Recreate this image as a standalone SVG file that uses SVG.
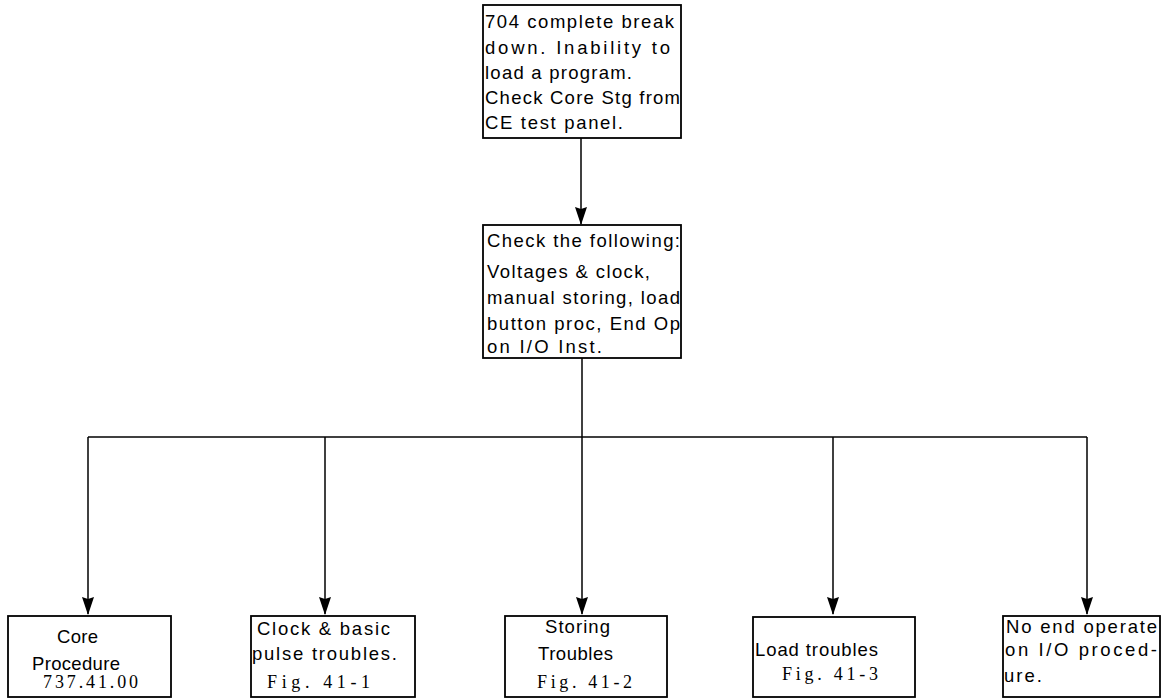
<svg xmlns="http://www.w3.org/2000/svg" width="1163" height="700" viewBox="0 0 1163 700">
<style>
.box{fill:#fff;stroke:#000;stroke-width:1.8}
.t{font-family:"Liberation Sans","DejaVu Sans",sans-serif;font-size:18.5px;fill:#000}
.s{font-family:"Liberation Serif","DejaVu Serif",serif;font-size:18px;fill:#000}
.c{fill:none;stroke:#000;stroke-width:1.5}
</style>
<defs>
<marker id="ah" markerUnits="userSpaceOnUse" markerWidth="18" markerHeight="14" refX="17" refY="7" orient="auto" viewBox="0 0 18 14">
<path d="M0,1 L2,7 L0,13 L18,7 Z" fill="#000"/>
</marker>
</defs>
<rect width="1163" height="700" fill="#fff"/>
<g id="connectors">
<line class="c" x1="581" y1="138" x2="581" y2="224" marker-end="url(#ah)"/>
<line class="c" x1="582" y1="358" x2="582" y2="437"/>
<line class="c" x1="88" y1="437" x2="1087" y2="437"/>
<line class="c" x1="88" y1="437" x2="88" y2="614" marker-end="url(#ah)"/>
<line class="c" x1="325" y1="437" x2="325" y2="614" marker-end="url(#ah)"/>
<line class="c" x1="582" y1="437" x2="582" y2="614" marker-end="url(#ah)"/>
<line class="c" x1="833" y1="437" x2="833" y2="614" marker-end="url(#ah)"/>
<line class="c" x1="1087" y1="437" x2="1087" y2="614" marker-end="url(#ah)"/>
</g>
<g id="start">
<rect class="box" x="483" y="5" width="198" height="133"/>
<text class="t" x="485" y="28" textLength="189" lengthAdjust="spacing">704 complete break</text>
<text class="t" x="485" y="54" textLength="185" lengthAdjust="spacing">down.  Inability to</text>
<text class="t" x="485" y="79" textLength="147" lengthAdjust="spacing">load a program.</text>
<text class="t" x="485" y="104" textLength="195" lengthAdjust="spacing">Check Core Stg from</text>
<text class="t" x="485" y="129" textLength="138" lengthAdjust="spacing">CE test panel.</text>
</g>
<g id="check">
<rect class="box" x="483" y="225" width="198" height="133"/>
<text class="t" x="487" y="247" textLength="193" lengthAdjust="spacing">Check the following:</text>
<text class="t" x="487" y="278" textLength="163" lengthAdjust="spacing">Voltages &amp; clock,</text>
<text class="t" x="487" y="304" textLength="193" lengthAdjust="spacing">manual storing, load</text>
<text class="t" x="487" y="330" textLength="193" lengthAdjust="spacing">button proc, End Op</text>
<text class="t" x="487" y="353" textLength="115" lengthAdjust="spacing">on I/O Inst.</text>
</g>
<g id="core">
<rect class="box" x="8" y="616" width="163" height="81"/>
<text class="t" x="57" y="643" textLength="41" lengthAdjust="spacing">Core</text>
<text class="t" x="32" y="670" textLength="88" lengthAdjust="spacing">Procedure</text>
<text class="s" x="43" y="688" textLength="95" lengthAdjust="spacing">737.41.00</text>
</g>
<g id="clock">
<rect class="box" x="251" y="616" width="164" height="81"/>
<text class="t" x="257" y="635" textLength="133" lengthAdjust="spacing">Clock &amp; basic</text>
<text class="t" x="252" y="660" textLength="145" lengthAdjust="spacing">pulse troubles.</text>
<text class="s" x="267" y="688" textLength="103" lengthAdjust="spacing">Fig. 41-1</text>
</g>
<g id="storing">
<rect class="box" x="505" y="616" width="162" height="81"/>
<text class="t" x="545" y="633" textLength="65" lengthAdjust="spacing">Storing</text>
<text class="t" x="538" y="660" textLength="75" lengthAdjust="spacing">Troubles</text>
<text class="s" x="537" y="688" textLength="95" lengthAdjust="spacing">Fig. 41-2</text>
</g>
<g id="load">
<rect class="box" x="753" y="617" width="162" height="80"/>
<text class="t" x="755" y="656" textLength="123" lengthAdjust="spacing">Load troubles</text>
<text class="s" x="782" y="680" textLength="96" lengthAdjust="spacing">Fig. 41-3</text>
</g>
<g id="noend">
<rect class="box" x="1003" y="616" width="157" height="81"/>
<text class="t" x="1006" y="633" textLength="151" lengthAdjust="spacing">No end operate</text>
<text class="t" x="1005" y="656" textLength="152" lengthAdjust="spacing">on I/O proced-</text>
<text class="t" x="1004" y="682" textLength="38" lengthAdjust="spacing">ure.</text>
</g>
</svg>
